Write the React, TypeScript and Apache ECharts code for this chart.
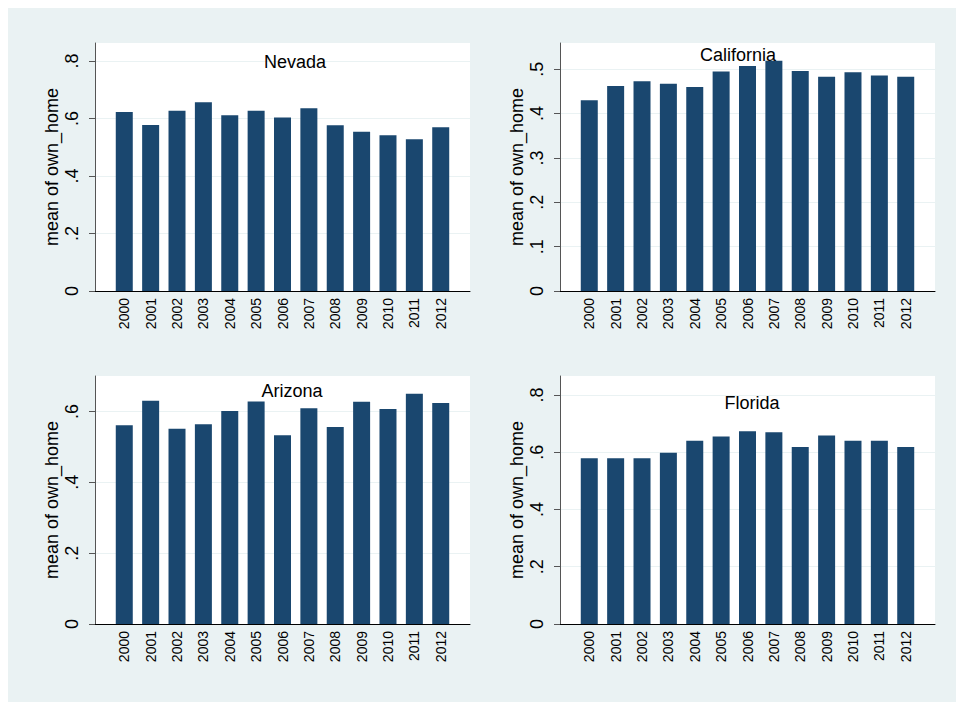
import React, { useEffect, useRef } from "react";
import * as echarts from "echarts";

const YEARS = [2000, 2001, 2002, 2003, 2004, 2005, 2006, 2007, 2008, 2009, 2010, 2011, 2012];
const NEVADA = [0.623, 0.578, 0.627, 0.657, 0.612, 0.627, 0.604, 0.636, 0.577, 0.554, 0.542, 0.528, 0.57];
const CALIFORNIA = [0.43, 0.462, 0.473, 0.467, 0.46, 0.495, 0.507, 0.519, 0.496, 0.483, 0.493, 0.486, 0.483];
const ARIZONA = [0.561, 0.63, 0.551, 0.564, 0.601, 0.628, 0.533, 0.609, 0.556, 0.627, 0.607, 0.65, 0.624];
const FLORIDA = [0.579, 0.579, 0.579, 0.598, 0.64, 0.655, 0.673, 0.67, 0.618, 0.658, 0.64, 0.64, 0.618];
const STATES = ["Nevada", "California", "Arizona", "Florida"];
const Y_TICKS_A = [0, 0.2, 0.4, 0.6, 0.8];
const Y_TICKS_CA = [0, 0.1, 0.2, 0.3, 0.4, 0.5];
const Y_TICKS_AZ = [0, 0.2, 0.4, 0.6];
const Y_TITLE = "mean of own_home";

const FONT = "'Liberation Sans', Arial, Helvetica, sans-serif";
const BG = "#eaf2f3";
const BAR = "#1a476f";

export default function App() {
  const ref = useRef<HTMLDivElement>(null);
  useEffect(() => {
    if (!ref.current) return;
    const chart = echarts.init(ref.current, undefined, { renderer: "svg" });

    const panels = [
      { name: STATES[0], data: NEVADA, ticks: Y_TICKS_A, step: 0.2, max: 0.863, left: 87, top: 35, h: 248, tx: 287, ty: 54 },
      { name: STATES[1], data: CALIFORNIA, ticks: Y_TICKS_CA, step: 0.1, max: 0.559, left: 552, top: 35, h: 248, tx: 730, ty: 47 },
      { name: STATES[2], data: ARIZONA, ticks: Y_TICKS_AZ, step: 0.2, max: 0.7, left: 87, top: 368, h: 248, tx: 284, ty: 383 },
      { name: STATES[3], data: FLORIDA, ticks: Y_TICKS_A, step: 0.2, max: 0.866, left: 552, top: 368, h: 248, tx: 744, ty: 395 },
    ];

    const fmt = (v: number) => (Math.abs(v) < 1e-9 ? "0" : String(+v.toFixed(1)).replace(/^0\./, "."));

    const option: any = {
      animation: false,
      backgroundColor: BG,
      textStyle: { fontFamily: FONT },
      grid: panels.map((p) => ({
        left: p.left,
        top: p.top,
        width: 375,
        height: p.h,
        show: true,
        backgroundColor: "#ffffff",
        borderWidth: 0,
        containLabel: false,
      })),
      xAxis: panels.map((p, i) => ({
        type: "value",
        gridIndex: i,
        min: 1998.89,
        max: 2013.11,
        axisLine: { show: true, onZero: false, lineStyle: { color: "#000", width: 1 } },
        axisTick: { show: false },
        splitLine: { show: false },
        axisLabel: {
          customValues: YEARS,
          rotate: 90,
          fontSize: 14,
          fontFamily: FONT,
          color: "#000",
          margin: 7,
          formatter: (v: number) => String(Math.round(v)),
        },
      })),
      yAxis: panels.map((p, i) => ({
        type: "value",
        gridIndex: i,
        min: 0,
        max: p.max,
        interval: p.step,
        name: Y_TITLE,
        nameLocation: "middle",
        nameGap: 34,
        nameTextStyle: { fontSize: 18, fontFamily: FONT, color: "#000" },
        axisLine: { show: true, onZero: false, lineStyle: { color: "#555", width: 1 } },
        axisTick: { show: true, length: 6, customValues: p.ticks, lineStyle: { color: "#555" } },
        splitLine: { show: true, lineStyle: { color: BG, width: 1 } },
        axisLabel: {
          customValues: p.ticks,
          rotate: 90,
          fontSize: 18,
          fontFamily: FONT,
          color: "#000",
          margin: 14,
          formatter: fmt,
        },
      })),
      series: panels.map((p, i) => ({
        type: "bar",
        xAxisIndex: i,
        yAxisIndex: i,
        barWidth: 17,
        itemStyle: { color: BAR },
        data: YEARS.map((y, k) => [y, p.data[k]]),
      })),
      graphic: panels.map((p) => ({
        type: "text",
        x: p.tx,
        y: p.ty,
        z: 100,
        style: {
          text: p.name,
          font: `18px ${FONT}`,
          fill: "#000",
          align: "center",
          verticalAlign: "middle",
          textAlign: "center",
          textVerticalAlign: "middle",
        },
      })),
    };

    chart.setOption(option);
    return () => chart.dispose();
  }, []);

  return (
    <div
      ref={ref}
      style={{ position: "fixed", left: 8, top: 8, width: 948, height: 694 }}
    />
  );
}
